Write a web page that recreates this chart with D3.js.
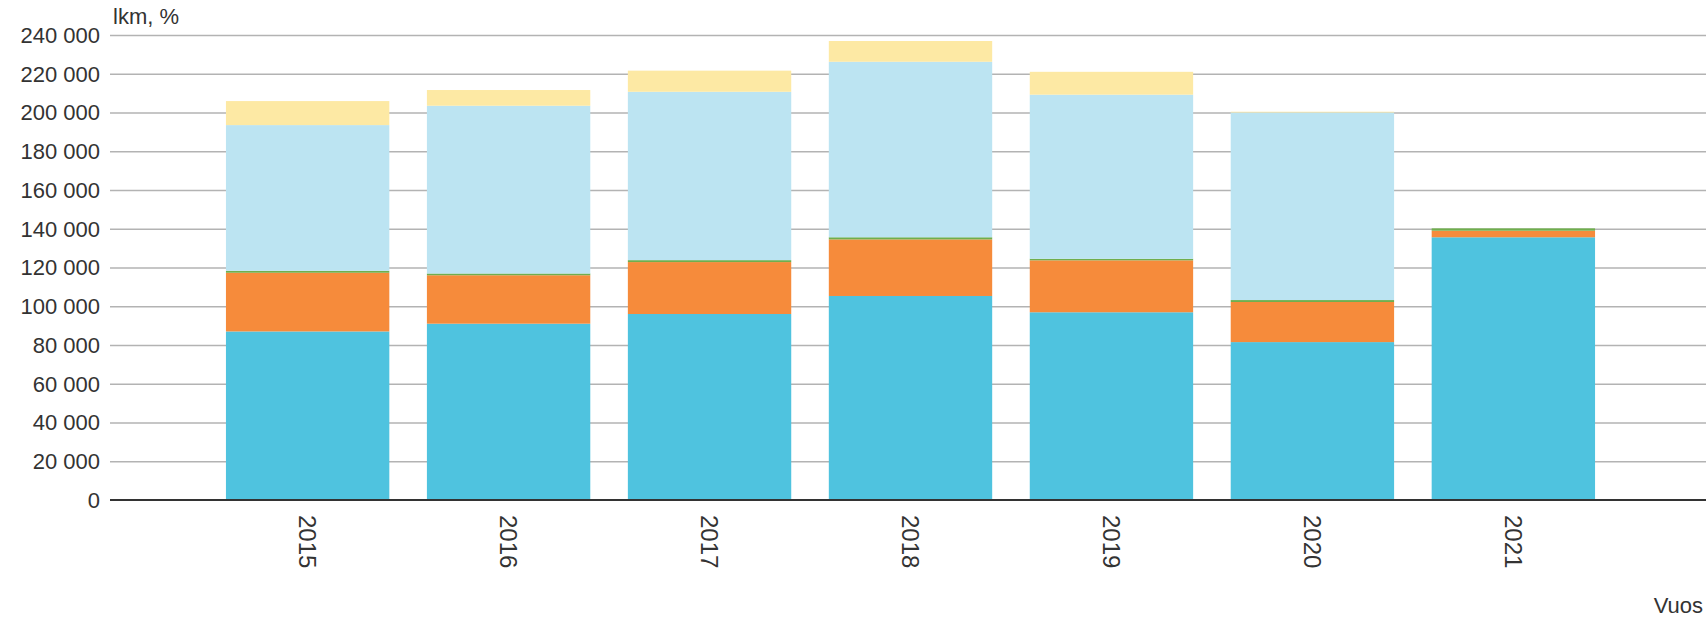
<!DOCTYPE html>
<html>
<head>
<meta charset="utf-8">
<script src="https://cdn.jsdelivr.net/npm/d3@7"></script>
<style>
	body { margin: 0; background: #fff; }
	text { font-family: "Liberation Sans", Arial, sans-serif; fill: #333; }
</style>
</head>
<body>
<div id="chart"></div>
<script>
// data, stacked bottom to top
var years = ['2015', '2016', '2017', '2018', '2019', '2020', '2021'];
var serieA = [87000, 91000, 96000, 105300, 96900, 81500, 135600];
var serieB = [30300, 25000, 26800, 29200, 26800, 20700, 3400];
var serieC = [1000, 900, 1000, 1100, 800, 1000, 1200];
var serieD = [75200, 86600, 86900, 90600, 84700, 96800, 0];
var serieE = [12400, 8100, 10900, 10700, 11800, 400, 0];
var yTicks = [0, 20000, 40000, 60000, 80000, 100000, 120000, 140000, 160000, 180000, 200000, 220000, 240000];

var keys = ['a', 'b', 'c', 'd', 'e'];
var colors = ['#4fc3df', '#f68b3b', '#6fae4e', '#bce4f2', '#fde9a4'];

var rows = years.map(function (y, i) {
	return {year: y, a: serieA[i], b: serieB[i], c: serieC[i], d: serieD[i], e: serieE[i]};
});

var w = 1706,
	h = 619,
	plotLeft = 110,
	plotRight = 1706,
	plotTop = 35,
	plotBottom = 500;

var svg = d3.select('#chart').append('svg')
	.attr('width', w)
	.attr('height', h);

var x = d3.scaleBand()
	.domain(years)
	.range([plotLeft, plotRight + 5])
	.paddingInner(0.187)
	.paddingOuter(0.577);

var y = d3.scaleLinear()
	.domain([0, 240000])
	.range([plotBottom, plotTop]);

var fmt = d3.formatLocale({decimal: ',', thousands: ' ', grouping: [3], currency: ['', '']}).format(',d');

// gridlines
svg.append('g').selectAll('line')
	.data(yTicks.slice(1))
	.enter().append('line')
	.attr('x1', plotLeft)
	.attr('x2', plotRight)
	.attr('y1', function (d) { return y(d) + 0.5; })
	.attr('y2', function (d) { return y(d) + 0.5; })
	.style('stroke', '#b3b3b3')
	.style('stroke-width', 1.5);

// y labels
svg.append('g').selectAll('text')
	.data(yTicks)
	.enter().append('text')
	.attr('x', 100)
	.attr('y', function (d) { return y(d); })
	.attr('dy', '0.36em')
	.attr('text-anchor', 'end')
	.style('font-size', '22px')
	.text(fmt);

var stack = d3.stack().keys(keys)(rows);

svg.append('g').selectAll('g')
	.data(stack)
	.enter().append('g')
	.style('fill', function (d, i) { return colors[i]; })
	.selectAll('rect')
	.data(function (d) { return d; })
	.enter().append('rect')
	.attr('x', function (d) { return x(d.data.year); })
	.attr('width', x.bandwidth())
	.attr('y', function (d) { return y(d[1]); })
	.attr('height', function (d) { return y(d[0]) - y(d[1]); });

// x axis line
svg.append('line')
	.attr('x1', plotLeft)
	.attr('x2', plotRight)
	.attr('y1', plotBottom)
	.attr('y2', plotBottom)
	.style('stroke', '#333')
	.style('stroke-width', 2);

// x labels, rotated
svg.append('g').selectAll('text')
	.data(years)
	.enter().append('text')
	.attr('transform', function (d) {
		return 'translate(' + (x(d) + x.bandwidth() / 2) + ',515)rotate(90)';
	})
	.attr('dy', '0.36em')
	.style('font-size', '24px')
	.text(String);

svg.append('text')
	.attr('x', 113)
	.attr('y', 24)
	.style('font-size', '22px')
	.text('lkm, %');

svg.append('text')
	.attr('x', 1703)
	.attr('y', 613)
	.attr('text-anchor', 'end')
	.style('font-size', '22px')
	.text('Vuos');
</script>
</body>
</html>
